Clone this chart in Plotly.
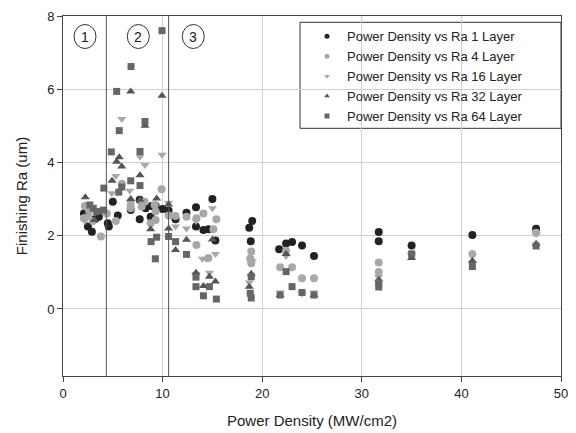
import plotly.graph_objects as go

# ---- data ----
x_1layer = [2.1, 2.5, 2.9, 3.2, 3.6, 4.5, 4.6, 5.0, 5.5, 6.8, 7.7, 7.7, 8.3, 8.8, 8.9, 9.3, 10.0, 10.6,
            11.3, 12.4, 13.35, 13.35, 14.1, 14.6, 15.0, 15.3, 18.7, 19.0, 18.85, 21.7, 22.4, 23.0, 24.0,
            25.2, 31.7, 31.7, 35.0, 41.1, 47.5]
y_1layer = [2.61, 2.25, 2.11, 2.45, 2.52, 2.34, 2.25, 2.93, 2.55, 2.70, 2.98, 2.45, 2.75, 2.52, 2.81, 2.82,
            2.73, 2.69, 2.45, 2.63, 2.78, 2.25, 2.16, 2.18, 3.00, 1.87, 2.22, 2.40, 1.85, 1.63, 1.79, 1.83,
            1.73, 1.45, 2.10, 1.85, 1.73, 2.02, 2.19]

x_4layer = [2.2, 2.1, 2.6, 3.0, 3.8, 4.4, 5.3, 5.9, 6.8, 6.8, 7.9, 8.2, 8.8, 9.2, 9.3, 9.3, 9.9, 10.6,
            11.3, 12.4, 13.4, 13.4, 14.1, 14.6, 15.4, 15.1, 18.9, 18.8, 18.9, 21.8, 22.4, 23.0, 24.0,
            25.2, 31.7, 31.7, 35.0, 41.1, 47.5]
y_4layer = [2.81, 2.48, 2.70, 2.40, 1.98, 2.61, 2.40, 3.42, 2.84, 2.75, 2.80, 2.93, 2.34, 2.84, 2.66, 2.43,
            3.27, 2.55, 2.54, 2.52, 2.48, 1.75, 2.61, 1.39, 2.45, 2.18, 1.57, 1.38, 1.25, 1.14, 1.59, 1.14,
            0.84, 0.84, 1.27, 1.01, 1.50, 1.50, 2.08]

x_16layer = [2.2, 2.6, 3.3, 4.9, 5.3, 5.9, 6.7, 6.8, 7.73, 8.23, 7.9, 9.94, 10.6, 11.3, 12.4, 13.35, 14.0,
             14.4, 15.0, 15.3, 13.35, 14.7, 18.7, 19.0, 21.8, 22.4, 24.0, 25.2, 31.7, 35.0, 41.1, 47.5]
y_16layer = [2.40, 2.55, 2.65, 3.16, 3.63, 5.19, 3.23, 2.90, 4.16, 3.93, 2.90, 4.21, 2.90, 2.25, 2.20, 2.40,
             1.37, 1.37, 2.75, 1.50, 0.95, 0.99, 0.72, 1.30, 0.45, 1.45, 0.42, 0.45, 0.87, 1.50, 1.25, 2.05]

x_32layer = [2.24, 3.15, 4.92, 5.39, 5.65, 5.9, 6.8, 6.8, 7.73, 7.73, 8.23, 8.8, 9.4, 9.94, 10.6, 10.6,
             11.3, 12.4, 13.35, 14.1, 14.7, 15.0, 15.3, 18.9, 18.7, 21.8, 22.4, 25.2, 31.7, 35.0, 41.1, 47.5]
y_32layer = [3.05, 2.43, 3.50, 4.02, 4.14, 3.89, 5.94, 3.00, 3.65, 2.98, 5.00, 2.18, 3.02, 5.82, 2.85, 2.20,
             1.61, 1.89, 0.99, 0.63, 0.88, 1.90, 0.75, 0.96, 0.61, 0.38, 1.50, 0.38, 0.80, 1.39, 1.32, 1.78]

x_64layer = [2.7, 3.04, 3.38, 4.05, 4.1, 4.85, 5.39, 5.65, 5.6, 5.9, 6.83, 6.8, 7.73, 7.73, 8.23, 8.84,
             9.27, 9.4, 9.94, 10.6, 11.3, 12.4, 13.35, 13.35, 14.1, 14.7, 15.4, 18.9, 18.8, 18.9, 21.8,
             22.4, 23.0, 24.0, 25.2, 31.7, 31.7, 35.0, 41.1, 47.5]
y_64layer = [2.84, 2.75, 2.66, 2.70, 3.30, 4.29, 5.94, 4.87, 3.19, 3.33, 6.62, 3.50, 4.30, 3.37, 5.12, 1.84,
             1.37, 1.96, 7.60, 1.98, 1.84, 1.49, 0.87, 0.61, 0.36, 0.61, 0.27, 0.88, 0.43, 0.30, 0.38,
             1.02, 0.61, 0.45, 0.38, 0.71, 0.60, 1.50, 1.16, 1.72]

series_names = ["Power Density vs Ra 1 Layer", "Power Density vs Ra 4 Layer",
                "Power Density vs Ra 16 Layer", "Power Density vs Ra 32 Layer",
                "Power Density vs Ra 64 Layer"]

region_bounds = [4.35, 10.6]
region_labels = ["1", "2", "3"]
region_label_x = [2.21, 7.56, 13.08]
region_label_y = 7.44

x_ticks = [0, 10, 20, 30, 40, 50]
y_ticks = [0, 2, 4, 6, 8]

# ---- styling ----
FONT = "Arial, Liberation Sans, sans-serif"
styles = [
    dict(symbol="circle", color="#222222", size=8),
    dict(symbol="circle", color="#a8a8a8", size=8),
    dict(symbol="triangle-down", color="#a8a8a8", size=8),
    dict(symbol="triangle-up", color="#555555", size=8),
    dict(symbol="square", color="#666666", size=7),
]
xs = [x_1layer, x_4layer, x_16layer, x_32layer, x_64layer]
ys = [y_1layer, y_4layer, y_16layer, y_32layer, y_64layer]

fig = go.Figure()
for xv, yv, st, nm in zip(xs, ys, styles, series_names):
    fig.add_trace(go.Scatter(x=xv, y=yv, mode="markers", name=nm, showlegend=False,
                             marker=dict(symbol=st["symbol"], color=st["color"], size=st["size"],
                                         line=dict(width=0))))
# legend entries (small markers like the reference)
for st, nm in zip(styles, series_names):
    fig.add_trace(go.Scatter(x=[None], y=[None], mode="markers", name=nm,
                             marker=dict(symbol=st["symbol"], color=st["color"], size=5,
                                         line=dict(width=0))))

shapes = []
for b in region_bounds:
    shapes.append(dict(type="line", xref="x", yref="paper", x0=b, x1=b, y0=0, y1=1,
                       line=dict(color="#555555", width=1)))
for lx in region_label_x:
    shapes.append(dict(type="circle", xref="x", yref="y", xsizemode="pixel", ysizemode="pixel",
                       xanchor=lx, yanchor=region_label_y, x0=-11, x1=11, y0=-12, y1=12,
                       line=dict(color="#333333", width=1)))
# legend frame
shapes.append(dict(type="rect", xref="paper", yref="paper", x0=0.476, x1=1.0, y0=0.688, y1=0.9825,
                   line=dict(color="#333333", width=1), fillcolor="white", layer="below"))

annotations = [dict(x=lx, y=region_label_y, xref="x", yref="y", text=t, showarrow=False,
                    font=dict(family=FONT, size=14, color="#222222"))
               for lx, t in zip(region_label_x, region_labels)]

# the page body adds an 8px offset; size/margins compensate so the plot area
# lands at x 63..561, y 16..376 in the 576x433 window
fig.update_layout(
    width=568, height=425,
    margin=dict(l=55, r=15, t=8, b=57),
    paper_bgcolor="white", plot_bgcolor="white",
    font=dict(family=FONT, color="#222222"),
    shapes=shapes, annotations=annotations,
    showlegend=True,
    legend=dict(x=0.49, y=0.985, xanchor="left", yanchor="top", bgcolor="rgba(0,0,0,0)",
                font=dict(family=FONT, size=13, color="#222222"), tracegroupgap=0),
)
fig.update_xaxes(range=[0, 50], tickvals=x_ticks, ticks="outside", ticklen=5, tickcolor="#444444",
                 showline=True, linecolor="#444444", linewidth=1, mirror=True, automargin=False,
                 showgrid=True, gridcolor="#d0d0d0", gridwidth=1, zeroline=False,
                 tickfont=dict(family=FONT, size=13, color="#222222"),
                 title=dict(text="Power Density (MW/cm2)", font=dict(family=FONT, size=15, color="#222222")))
fig.update_yaxes(range=[-1.83, 8], tickvals=y_ticks, ticks="outside", ticklen=5, tickcolor="#444444",
                 showline=True, linecolor="#444444", linewidth=1, mirror=True, automargin=False,
                 showgrid=True, gridcolor="#d0d0d0", gridwidth=1, zeroline=False,
                 tickfont=dict(family=FONT, size=13, color="#222222"),
                 title=dict(text="Finishing Ra (um)", font=dict(family=FONT, size=15, color="#222222")))

fig.write_html("out.html")
